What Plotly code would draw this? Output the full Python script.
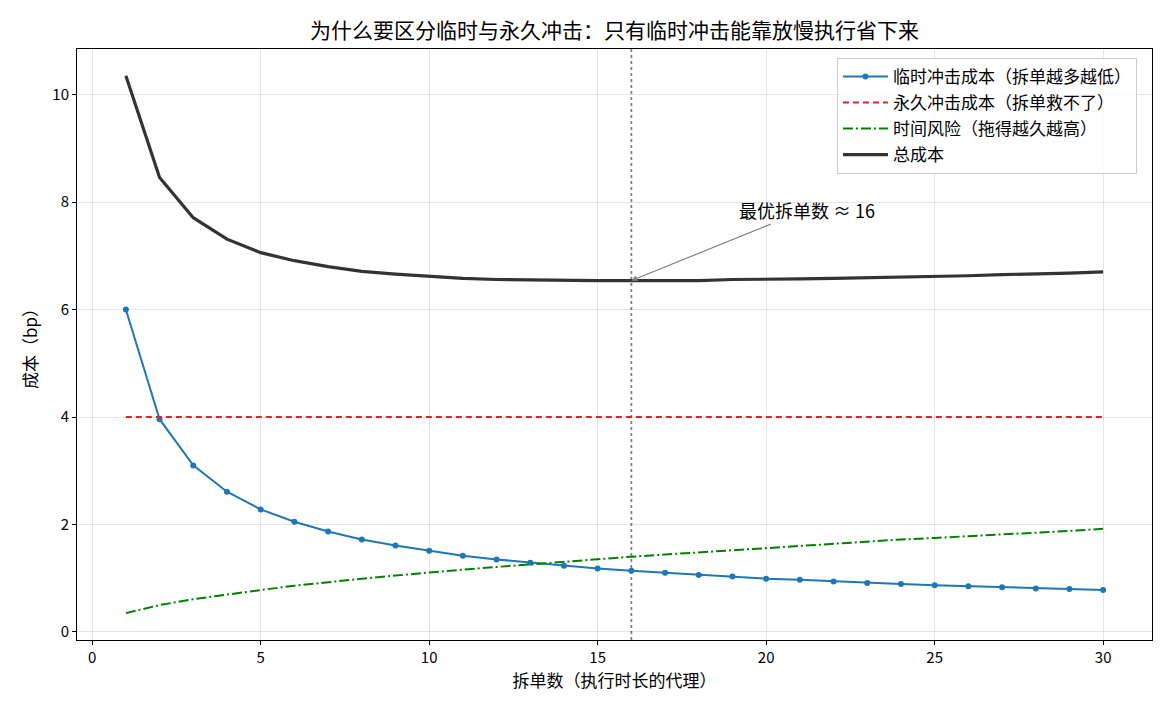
import plotly.graph_objects as go

n_slices = list(range(1, 31))
temp_cost = [6.00, 3.96, 3.10, 2.61, 2.28, 2.05, 1.87, 1.72, 1.61, 1.51,
             1.42, 1.35, 1.29, 1.23, 1.18, 1.14, 1.10, 1.06, 1.03, 0.99,
             0.97, 0.94, 0.91, 0.89, 0.87, 0.85, 0.83, 0.81, 0.80, 0.78]
perm_cost = [4.0] * 30
time_risk = [0.35, 0.50, 0.61, 0.70, 0.78, 0.86, 0.93, 0.99, 1.05, 1.11,
             1.16, 1.21, 1.26, 1.31, 1.36, 1.40, 1.44, 1.48, 1.53, 1.57,
             1.60, 1.64, 1.68, 1.72, 1.75, 1.78, 1.82, 1.85, 1.88, 1.92]
total_cost = [a + b + c for a, b, c in zip(temp_cost, perm_cost, time_risk)]
best_n = 16
best_cost = total_cost[best_n - 1]

FONT = "Noto Sans CJK SC, Noto Sans, sans-serif"

fig = go.Figure()
fig.add_trace(go.Scatter(x=n_slices, y=temp_cost, mode="lines+markers",
                         name="临时冲击成本（拆单越多越低）",
                         line=dict(color="#1f77b4", width=2),
                         marker=dict(size=6, color="#1f77b4"),
                         legendgroup="a"))
fig.add_trace(go.Scatter(x=n_slices, y=perm_cost, mode="lines",
                         name="永久冲击成本（拆单救不了）",
                         line=dict(color="#d62728", width=2, dash="6px,4px"),
                         legendgroup="b"))
fig.add_trace(go.Scatter(x=n_slices, y=time_risk, mode="lines",
                         name="时间风险（拖得越久越高）",
                         line=dict(color="#008000", width=2, dash="10px,3px,2px,3px"),
                         legendgroup="c"))
fig.add_trace(go.Scatter(x=n_slices, y=total_cost, mode="lines",
                         name="总成本",
                         line=dict(color="#333333", width=3.2),
                         legendgroup="d"))

fig.add_shape(type="line", x0=best_n, x1=best_n, y0=0, y1=1, xref="x", yref="paper",
              line=dict(color="gray", width=1.8, dash="dot"), layer="below")

fig.add_annotation(x=best_n, y=best_cost, xref="x", yref="y",
                   ax=21.2, ay=7.86, axref="x", ayref="y",
                   text="最优拆单数 ≈ 16", showarrow=True,
                   arrowhead=2, arrowsize=1, arrowwidth=1.2, arrowcolor="gray",
                   font=dict(family=FONT, size=18, color="black"))

axis_common = dict(showline=True, linecolor="black", linewidth=1, mirror=True,
                   ticks="outside", ticklen=4, tickcolor="black",
                   showgrid=True, gridcolor="rgba(0,0,0,0.1)", zeroline=False,
                   tickfont=dict(family=FONT, size=15, color="black"))

fig.update_layout(
    width=1170, height=715,
    margin=dict(l=77, r=18, t=49, b=75),
    paper_bgcolor="white", plot_bgcolor="white",
    font=dict(family=FONT, size=15, color="black"),
    title=dict(text="为什么要区分临时与永久冲击：只有临时冲击能靠放慢执行省下来",
               x=0.5, xref="paper", xanchor="center", y=0.957, yanchor="middle",
               font=dict(family=FONT, size=21, color="black")),
    xaxis=dict(range=[-0.45, 31.45], tickvals=[0, 5, 10, 15, 20, 25, 30],
               title=dict(text="拆单数（执行时长的代理）", font=dict(family=FONT, size=17), standoff=8),
               **axis_common),
    yaxis=dict(range=[-0.15, 10.85], tickvals=[0, 2, 4, 6, 8, 10],
               title=dict(text="成本（bp）", font=dict(family=FONT, size=17), standoff=10),
               **axis_common),
    legend=dict(x=0.986, y=0.985, xanchor="right", yanchor="top",
                bgcolor="rgba(255,255,255,0.8)", bordercolor="#cccccc", borderwidth=1,
                font=dict(family=FONT, size=17), tracegroupgap=1, itemwidth=45,
                traceorder="grouped"),
    showlegend=True,
)

fig.write_html("out.html")
